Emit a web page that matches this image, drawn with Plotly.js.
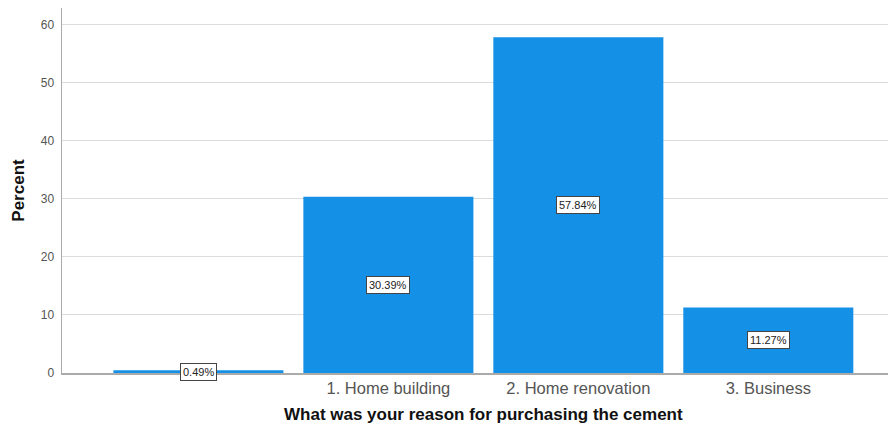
<!DOCTYPE html>
<html><head><meta charset="utf-8">
<script src="https://cdn.plot.ly/plotly-3.0.1.min.js"></script>
<style>html,body{margin:0;padding:0;background:#fff}</style>
</head><body><div id="chart" style="width:891px;height:428px"></div>
<script>
const categories = ["", "1. Home building", "2. Home renovation", "3. Business"];
const percents = [0.49, 30.39, 57.84, 11.27];
const labels = ["0.49%", "30.39%", "57.84%", "11.27%"];
const yTicks = [0, 10, 20, 30, 40, 50, 60];

const idx = categories.map((c, i) => i);
const trace = {
  type: "bar", x: idx, y: percents,
  marker: {color: "#1490e6", line: {width: 0}},
  hoverinfo: "none"
};
const annotations = idx.map(i => ({
  x: i, y: percents[i] / 2, xref: "x", yref: "y",
  text: labels[i], showarrow: false,
  font: {family: "Arial, Liberation Sans", size: 11, color: "#222"},
  bgcolor: "#ffffff", bordercolor: "#444", borderwidth: 1, borderpad: 2
}));
annotations.push({
  xref: "paper", yref: "paper", x: (483 - 62) / 826, y: 0, yshift: -41,
  xanchor: "center", yanchor: "middle", showarrow: false,
  text: "<b>What was your reason for purchasing the cement</b>",
  font: {family: "Arial, Liberation Sans", size: 17, color: "#111"}
});
const layout = {
  width: 891, height: 428,
  margin: {l: 62, r: 3, t: 8, b: 55},
  paper_bgcolor: "#fff", plot_bgcolor: "#fff",
  bargap: 0.105, showlegend: false,
  font: {family: "Arial, Liberation Sans, sans-serif"},
  xaxis: {
    range: [-0.718, 3.63], tickvals: idx, ticktext: categories,
    showgrid: false, zeroline: false, showline: true, linecolor: "#aaa", linewidth: 1.5,
    ticks: "", tickfont: {size: 16.5, color: "#555"}, ticklabelstandoff: 0
  },
  yaxis: {
    range: [0, 62.9], tickvals: yTicks, showgrid: true, gridcolor: "#dcdcdc", gridwidth: 1,
    zeroline: false, showline: true, linecolor: "#aaa", linewidth: 1.5,
    ticks: "", tickfont: {size: 12, color: "#555"}, ticklabelstandoff: 4,
    title: {text: "<b>Percent</b>", font: {size: 17, color: "#111"}, standoff: 12}
  },
  annotations: annotations
};
Plotly.newPlot("chart", [trace], layout, {staticPlot: true, displayModeBar: false});
</script></body></html>
